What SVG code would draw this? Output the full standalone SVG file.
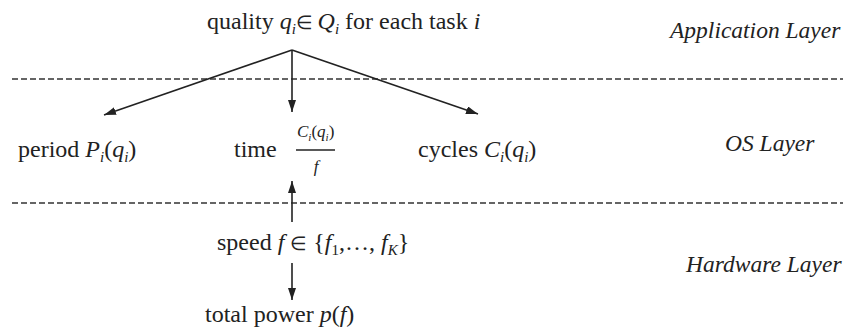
<svg xmlns="http://www.w3.org/2000/svg" width="843" height="329" viewBox="0 0 843 329" font-family="Liberation Serif, Times New Roman, serif">
<style>
text{fill:#222}
.t{font-size:24px}
.i{font-style:italic}
.s{font-size:15px;font-style:italic}
.n{font-size:17px}
.e{font-size:19px}
.layer{font-size:23.5px;font-style:italic}
.dash{stroke:#333;stroke-width:1.5;stroke-dasharray:6 3;fill:none}
.c{stroke:#222;stroke-width:1.6;fill:none}
</style>
<defs>
<marker id="ah" viewBox="0 0 12 8" refX="12" refY="4" markerWidth="12" markerHeight="8" markerUnits="userSpaceOnUse" orient="auto">
<path d="M0,0 L12,4 L0,8 Z" fill="#222"/>
</marker>
</defs>
<rect width="843" height="329" fill="#fff"/>
<g id="layers">
<line class="dash" x1="12" y1="79" x2="843" y2="79"/>
<line class="dash" x1="12" y1="203" x2="843" y2="203"/>
<text class="layer" x="670" y="38">Application Layer</text>
<text class="layer" x="725" y="151">OS Layer</text>
<text class="layer" x="686" y="272">Hardware Layer</text>
</g>
<g id="quality">
<text class="t" x="207" y="29">quality <tspan class="i">q</tspan><tspan class="s" dy="5">i</tspan><tspan class="e" dy="-5">∈ </tspan><tspan class="i">Q</tspan><tspan class="s" dy="5">i</tspan><tspan dy="-5"> for each task </tspan><tspan class="i">i</tspan></text>
</g>
<g id="period">
<text class="t" x="18" y="157">period <tspan class="i">P</tspan><tspan class="s" dy="5">i</tspan><tspan dy="-5">(</tspan><tspan class="i">q</tspan><tspan class="s" dy="5">i</tspan><tspan dy="-5">)</tspan></text>
</g>
<g id="time">
<text class="t" x="234" y="157">time</text>
<text class="n" x="297" y="137"><tspan class="i">C</tspan><tspan style="font-size:11px;font-style:italic" dy="4">i</tspan><tspan dy="-4">(</tspan><tspan class="i">q</tspan><tspan style="font-size:11px;font-style:italic" dy="4">i</tspan><tspan dy="-4">)</tspan></text>
<line x1="296" y1="150" x2="335" y2="150" stroke="#222" stroke-width="1.3"/>
<text class="n i" x="316" y="172" text-anchor="middle">f</text>
</g>
<g id="cycles">
<text class="t" x="418" y="157">cycles <tspan class="i">C</tspan><tspan class="s" dy="5">i</tspan><tspan dy="-5">(</tspan><tspan class="i">q</tspan><tspan class="s" dy="5">i</tspan><tspan dy="-5">)</tspan></text>
</g>
<g id="speed">
<text class="t" x="217" y="250">speed <tspan class="i">f</tspan> <tspan class="e">∈</tspan> {<tspan class="i">f</tspan><tspan class="s" dy="5" style="font-style:normal">1</tspan><tspan dy="-5">,…, </tspan><tspan class="i">f</tspan><tspan class="s" dy="5">K</tspan><tspan dy="-5">}</tspan></text>
</g>
<g id="power">
<text class="t" x="205" y="322">total power <tspan class="i">p</tspan>(<tspan class="i">f</tspan>)</text>
</g>
<g id="connectors">
<line class="c" x1="292" y1="50" x2="104" y2="115" marker-end="url(#ah)"/>
<line class="c" x1="292" y1="50" x2="292" y2="112" marker-end="url(#ah)"/>
<line class="c" x1="292" y1="50" x2="478" y2="114" marker-end="url(#ah)"/>
<line class="c" x1="292" y1="222" x2="292" y2="181" marker-end="url(#ah)"/>
<line class="c" x1="292" y1="263" x2="292" y2="300" marker-end="url(#ah)"/>
</g>
</svg>
